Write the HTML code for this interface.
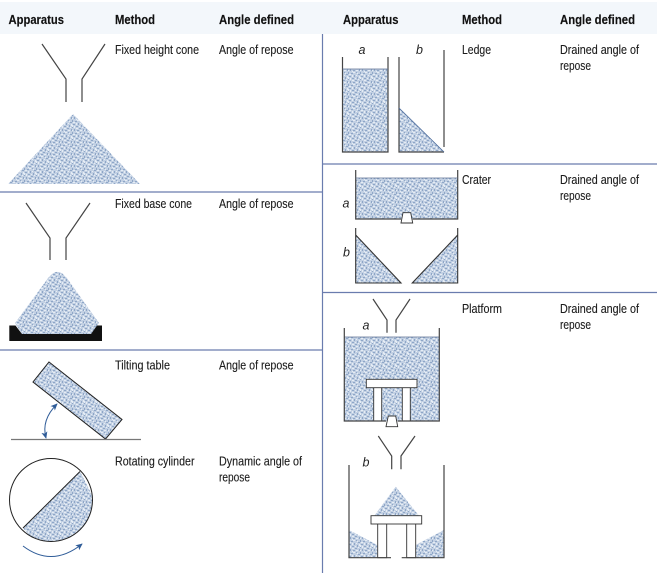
<!DOCTYPE html>
<html>
<head>
<meta charset="utf-8">
<style>
html,body{margin:0;padding:0;background:#fff;width:657px;height:573px;overflow:hidden}
svg{display:block}
text{font-family:"Liberation Sans",sans-serif;font-size:12.5px;fill:#1c1c1c;stroke:#1c1c1c;stroke-width:.12px}
.h{font-weight:bold;font-size:13px;fill:#111;stroke:#111;stroke-width:.15px}
.i{font-style:italic;font-size:12.5px;fill:#222;stroke:none}
</style>
</head>
<body>
<svg width="657" height="573" viewBox="0 0 657 573" xmlns="http://www.w3.org/2000/svg">
<defs>
<pattern id="g" width="12" height="12" patternUnits="userSpaceOnUse" shape-rendering="crispEdges">
<rect width="12" height="12" fill="#c2d0e3"/>
<g fill="#8ea6c7">
<rect x="0" y="0" width="1" height="2"/><rect x="3" y="1" width="2" height="1"/><rect x="8" y="0" width="1" height="1"/>
<rect x="6" y="3" width="1" height="2"/><rect x="10" y="2" width="2" height="1"/><rect x="1" y="4" width="2" height="1"/>
<rect x="4" y="6" width="2" height="1"/><rect x="9" y="5" width="1" height="2"/><rect x="0" y="7" width="1" height="1"/>
<rect x="2" y="9" width="1" height="2"/><rect x="7" y="8" width="2" height="1"/><rect x="11" y="9" width="1" height="2"/>
<rect x="5" y="10" width="2" height="1"/>
</g>
<g fill="#e6edf5">
<rect x="1" y="2" width="2" height="1"/><rect x="5" y="0" width="2" height="1"/><rect x="9" y="1" width="1" height="1"/>
<rect x="4" y="3" width="1" height="2"/><rect x="8" y="3" width="1" height="1"/><rect x="11" y="4" width="1" height="2"/>
<rect x="0" y="5" width="1" height="2"/><rect x="2" y="6" width="1" height="2"/><rect x="7" y="6" width="1" height="1"/>
<rect x="10" y="7" width="1" height="1"/><rect x="4" y="8" width="2" height="1"/><rect x="0" y="10" width="1" height="1"/>
<rect x="8" y="10" width="2" height="1"/><rect x="4" y="11" width="1" height="1"/>
</g>
</pattern>
<clipPath id="circ"><circle cx="51" cy="500" r="41.500"/></clipPath>
<marker id="a" viewBox="0 0 8 8" refX="7" refY="4" markerWidth="7" markerHeight="7" orient="auto"><path d="M0 .5L8 4L0 7.500L2 4Z" fill="#2f5c98"/></marker>
<marker id="as" viewBox="0 0 8 8" refX="1" refY="4" markerWidth="7" markerHeight="7" orient="auto"><path d="M8 .5L0 4L8 7.500L6 4Z" fill="#2f5c98"/></marker>
</defs>

<rect x="0" y="2" width="657" height="32" fill="#f3f7fb"/>

<!-- grid lines -->
<g stroke="#6a7cae" stroke-width="1.200" fill="none">
<path d="M322.500 34V573"/>
<path d="M0 192H322"/>
<path d="M0 350H322"/>
<path d="M322 164H657"/>
<path d="M322 292.500H657"/>
</g>

<!-- headers -->
<text class="h" x="8.500" y="24" textLength="55.500" lengthAdjust="spacingAndGlyphs">Apparatus</text>
<text class="h" x="115" y="24" textLength="40" lengthAdjust="spacingAndGlyphs">Method</text>
<text class="h" x="219" y="24" textLength="75" lengthAdjust="spacingAndGlyphs">Angle defined</text>
<text class="h" x="343" y="24" textLength="55.500" lengthAdjust="spacingAndGlyphs">Apparatus</text>
<text class="h" x="462" y="24" textLength="40" lengthAdjust="spacingAndGlyphs">Method</text>
<text class="h" x="560" y="24" textLength="75" lengthAdjust="spacingAndGlyphs">Angle defined</text>

<!-- left text -->
<text x="115" y="54" textLength="84" lengthAdjust="spacingAndGlyphs">Fixed height cone</text>
<text x="219" y="54" textLength="74.500" lengthAdjust="spacingAndGlyphs">Angle of repose</text>
<text x="115" y="208" textLength="77" lengthAdjust="spacingAndGlyphs">Fixed base cone</text>
<text x="219" y="208" textLength="74.500" lengthAdjust="spacingAndGlyphs">Angle of repose</text>
<text x="115" y="369.500" textLength="55" lengthAdjust="spacingAndGlyphs">Tilting table</text>
<text x="219" y="369.500" textLength="74.500" lengthAdjust="spacingAndGlyphs">Angle of repose</text>
<text x="115" y="465.500" textLength="79.500" lengthAdjust="spacingAndGlyphs">Rotating cylinder</text>
<text x="219" y="465.500" textLength="83" lengthAdjust="spacingAndGlyphs">Dynamic angle of</text>
<text x="219" y="481.500" textLength="31" lengthAdjust="spacingAndGlyphs">repose</text>

<!-- right text -->
<text x="462" y="54" textLength="29" lengthAdjust="spacingAndGlyphs">Ledge</text>
<text x="560" y="54" textLength="79" lengthAdjust="spacingAndGlyphs">Drained angle of</text>
<text x="560" y="70" textLength="31" lengthAdjust="spacingAndGlyphs">repose</text>
<text x="462" y="184" textLength="29" lengthAdjust="spacingAndGlyphs">Crater</text>
<text x="560" y="184" textLength="79" lengthAdjust="spacingAndGlyphs">Drained angle of</text>
<text x="560" y="200" textLength="31" lengthAdjust="spacingAndGlyphs">repose</text>
<text x="462" y="313" textLength="40" lengthAdjust="spacingAndGlyphs">Platform</text>
<text x="560" y="313" textLength="79" lengthAdjust="spacingAndGlyphs">Drained angle of</text>
<text x="560" y="329" textLength="31" lengthAdjust="spacingAndGlyphs">repose</text>

<!-- fixed height cone -->
<path d="M73 114L140 184H8Z" fill="url(#g)"/>
<g fill="none" stroke="#444" stroke-width="1.200">
<path d="M42 44L66 79V102"/>
<path d="M105 44L82 79V102"/>
</g>

<!-- fixed base cone -->
<path d="M46 281Q53 271 58 272Q63 272 69 281L99 323L91 334H22L15 323Z" fill="url(#g)"/>
<path d="M9.300 325.500H15.500L22 334H91L97 325.500H102V341H9.300Z" fill="#111"/>
<g fill="none" stroke="#444" stroke-width="1.200">
<path d="M26 203L50 238V260"/>
<path d="M90 203L66 238V260"/>
</g>

<!-- tilting table -->
<path d="M49 362L122 419.500L105.500 439L33 382Z" fill="url(#g)" stroke="#222" stroke-width="1"/>
<path d="M11 439.500H141" stroke="#777" stroke-width="1.300"/>
<path d="M46 438Q41 420 57 404" fill="none" stroke="#2f5c98" stroke-width="1" marker-start="url(#as)" marker-end="url(#a)"/>

<!-- rotating cylinder -->
<path d="M80 471.500L23 528L50 560L110 530Z" fill="url(#g)" clip-path="url(#circ)"/>
<circle cx="51" cy="500" r="41.500" fill="none" stroke="#222" stroke-width="1"/>
<path d="M80 471.500L23 528" stroke="#222" stroke-width="1"/>
<path d="M23 546Q52 568 82 544" fill="none" stroke="#2f5c98" stroke-width="1" marker-end="url(#a)"/>

<!-- ledge -->
<text class="i" x="358.500" y="54">a</text>
<text class="i" x="416" y="54">b</text>
<rect x="342.500" y="69" width="45.500" height="83" fill="url(#g)"/>
<path d="M399 108L444 152H399Z" fill="url(#g)"/>
<path d="M342.500 57V152H388V57M399 57V152H444M444 147V50" fill="none" stroke="#444" stroke-width="1.200"/>
<path d="M342.500 69H388" stroke="#5b6f93" stroke-width=".8"/>
<path d="M399 108L444 152" stroke="#4a6a9a" stroke-width=".8"/>

<!-- crater a -->
<text class="i" x="342.500" y="207.500">a</text>
<rect x="355.700" y="178" width="102" height="41" fill="url(#g)"/>
<path d="M401 223L403 212.700H410.700L412.700 223Z" fill="#fff" stroke="#333" stroke-width=".9"/>
<path d="M355.700 170V219H401M412.700 219H457.700V170" fill="none" stroke="#444" stroke-width="1.200"/>
<path d="M355.700 178H457.700" stroke="#5b6f93" stroke-width=".8"/>

<!-- crater b -->
<text class="i" x="343" y="256.500">b</text>
<path d="M355.700 235L401 283H355.700Z" fill="url(#g)"/>
<path d="M457.700 235L412.300 283H457.700Z" fill="url(#g)"/>
<path d="M355.700 228V283H401L355.700 235M457.700 228V283H412.300L457.700 235" fill="none" stroke="#333" stroke-width="1.100"/>

<!-- platform a -->
<text class="i" x="362.500" y="329.500">a</text>
<rect x="344.300" y="337" width="95" height="84" fill="url(#g)"/>
<path d="M344.300 337H439.300" stroke="#5b6f93" stroke-width=".8"/>
<path d="M373.700 387.700V421H381.700V387.700M402.300 387.700V421H410.300V387.700" fill="#fff" stroke="#333" stroke-width=".9"/>
<rect x="366.300" y="379.300" width="50.700" height="8.400" fill="#fff" stroke="#333" stroke-width=".9"/>
<path d="M386 426.700L388.300 416H395.700L397.700 426.700Z" fill="#fff" stroke="#333" stroke-width=".9"/>
<path d="M344.300 328V421H386M397.700 421H439.300V328" fill="none" stroke="#444" stroke-width="1.200"/>
<g fill="none" stroke="#444" stroke-width="1.200">
<path d="M373 299L387 320V332.700"/>
<path d="M410 299L396 320V332.700"/>
</g>

<!-- platform b -->
<text class="i" x="362.500" y="466.500">b</text>
<path d="M395.700 486.700L419 515.700H374.300Z" fill="url(#g)"/>
<path d="M349 530L377.300 545V557.700H349Z" fill="url(#g)"/>
<path d="M444 530L415.700 545V557.700H444Z" fill="url(#g)"/>
<path d="M377.700 524V557.700H386.700V524M406.700 524V557.700H415.700V524" fill="#fff" stroke="#333" stroke-width=".9"/>
<rect x="371" y="515.700" width="50.700" height="8.300" fill="#fff" stroke="#333" stroke-width=".9"/>
<path d="M349 465V557.700H391M401.700 557.700H444V465" fill="none" stroke="#444" stroke-width="1.200"/>
<g fill="none" stroke="#444" stroke-width="1.200">
<path d="M378.300 436L391.700 456V469.300"/>
<path d="M415 436L401 456V469.300"/>
</g>
</svg>
</body>
</html>
